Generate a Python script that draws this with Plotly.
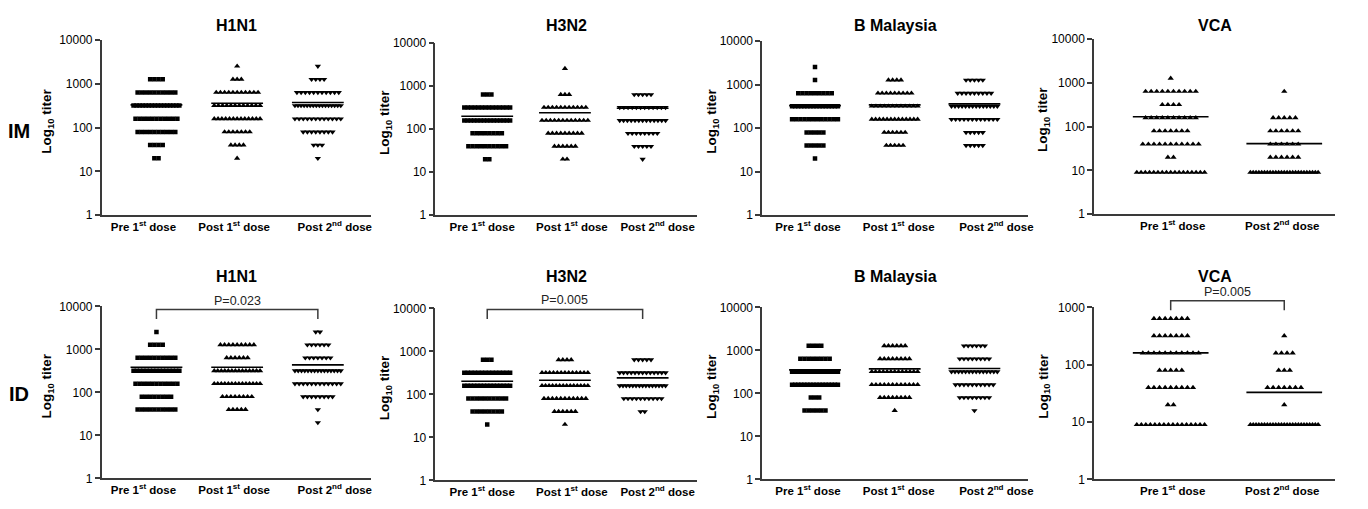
import numpy as np
import plotly.graph_objects as go

# page body has an 8px margin, so the figure is drawn slightly smaller and offset
PAGE_W, PAGE_H = 1368, 509
OFF = 8
W, H = PAGE_W - 2 * OFF, PAGE_H - 2 * OFF

# ---------------- data ----------------
TITERS = [9, 20, 40, 80, 160, 320, 640, 1280, 2560]
ANTIGENS = ["H1N1", "H3N2", "B Malaysia", "VCA"]
ROUTES = ["IM", "ID"]
GROUPS_FLU = ["Pre 1<sup>st</sup> dose", "Post 1<sup>st</sup> dose", "Post 2<sup>nd</sup> dose"]
GROUPS_VCA = ["Pre 1<sup>st</sup> dose", "Post 2<sup>nd</sup> dose"]

# number of subjects at each titer level (aligned with TITERS)
IM_H1N1_PRE = [0, 2, 4, 10, 11, 16, 10, 4, 0]
IM_H1N1_POST1 = [0, 1, 4, 7, 13, 12, 11, 3, 1]
IM_H1N1_POST2 = [0, 1, 3, 8, 12, 16, 11, 4, 1]
IM_H3N2_PRE = [0, 2, 10, 8, 15, 14, 3, 0, 0]
IM_H3N2_POST1 = [0, 2, 6, 9, 12, 11, 3, 0, 1]
IM_H3N2_POST2 = [0, 1, 5, 8, 13, 12, 5, 0, 0]
IM_BMAL_PRE = [0, 1, 5, 5, 12, 16, 9, 1, 1]
IM_BMAL_POST1 = [0, 0, 5, 6, 13, 12, 9, 4, 0]
IM_BMAL_POST2 = [0, 0, 5, 5, 12, 14, 9, 5, 0]
IM_VCA_PRE = [17, 2, 11, 7, 10, 4, 10, 1, 0]
IM_VCA_POST2 = [25, 6, 6, 6, 5, 0, 1, 0, 0]

ID_H1N1_PRE = [0, 0, 10, 8, 11, 15, 10, 4, 1]
ID_H1N1_POST1 = [0, 0, 5, 8, 14, 14, 6, 9, 0]
ID_H1N1_POST2 = [0, 1, 1, 8, 12, 15, 7, 6, 2]
ID_H3N2_PRE = [0, 1, 8, 10, 15, 14, 3, 0, 0]
ID_H3N2_POST1 = [0, 1, 6, 11, 14, 13, 4, 0, 0]
ID_H3N2_POST2 = [0, 0, 2, 10, 15, 13, 5, 0, 0]
ID_BMAL_PRE = [0, 0, 6, 3, 16, 14, 8, 4, 0]
ID_BMAL_POST1 = [0, 0, 1, 8, 12, 13, 8, 6, 0]
ID_BMAL_POST2 = [0, 0, 1, 8, 10, 14, 8, 6, 0]
ID_VCA_PRE = [16, 2, 9, 5, 11, 7, 7, 0, 0]
ID_VCA_POST2 = [25, 1, 7, 3, 4, 1, 0, 0, 0]

# geometric mean titers (horizontal lines)
IM_GMT = [[333, 363, 378], [199, 241, 306], [331, 344, 362], [169, 41]]
ID_GMT = [[386, 386, 438], [203, 214, 242], [353, 372, 380], [161, 33]]

# p-values: (panel index, text)
P_VALUES = [(4, "P=0.023"), (5, "P=0.005"), (7, "P=0.005")]

IM_COUNTS = [[IM_H1N1_PRE, IM_H1N1_POST1, IM_H1N1_POST2],
             [IM_H3N2_PRE, IM_H3N2_POST1, IM_H3N2_POST2],
             [IM_BMAL_PRE, IM_BMAL_POST1, IM_BMAL_POST2],
             [IM_VCA_PRE, IM_VCA_POST2]]
ID_COUNTS = [[ID_H1N1_PRE, ID_H1N1_POST1, ID_H1N1_POST2],
             [ID_H3N2_PRE, ID_H3N2_POST1, ID_H3N2_POST2],
             [ID_BMAL_PRE, ID_BMAL_POST1, ID_BMAL_POST2],
             [ID_VCA_PRE, ID_VCA_POST2]]

# ---------------- layout geometry (page pixels) ----------------
COLS = [
    dict(left=102, right=372, c0=157, gap=81, labels=[144, 235, 336]),
    dict(left=437, right=700, c0=489, gap=78, labels=[484, 574, 660]),
    dict(left=765, right=1032, c0=818, gap=80, labels=[811, 902, 1000]),
    dict(left=1098, right=1340, c0=1175, gap=114, labels=[1177, 1287]),
]
ROWS_Y = [[(34, 214), (37, 214), (35, 214), (33, 213)],
          [(308, 485), (310, 487), (309, 486), (309, 486)]]
TITLE_Y = [19, 277]
ROWLABEL_Y = [127, 398]

FONT = "Liberation Sans, Arial, sans-serif"
AX_COLOR = "#3a3a3a"


def px_x(p):
    return (p - OFF) / W


def px_y(p):
    return 1 - (p - OFF) / H


fig = go.Figure()
layout = dict(
    width=W, height=H, margin=dict(l=0, r=0, t=0, b=0),
    paper_bgcolor="white", plot_bgcolor="white", showlegend=False,
    font=dict(family=FONT, color="black"),
)
annotations = []
shapes = []

for r, (route, counts_row, gmt_row) in enumerate(zip(ROUTES, [IM_COUNTS, ID_COUNTS], [IM_GMT, ID_GMT])):
    for c, antigen in enumerate(ANTIGENS):
        k = r * 4 + c + 1
        col = COLS[c]
        ytop, ybot = ROWS_Y[r][c]
        is_vca = antigen == "VCA"
        groups = GROUPS_VCA if is_vca else GROUPS_FLU
        symbols = ["triangle-up", "triangle-up"] if is_vca else ["square", "triangle-up", "triangle-down"]
        step = 5.6 if is_vca else 4.2
        maxspan = 68 if is_vca else 46
        halfline = 38 if is_vca else 26
        gap = col["gap"]
        xr = [(col["left"] - col["c0"]) / gap, (col["right"] - col["c0"]) / gap]
        yrange = [0, 3] if (is_vca and r == 1) else [0, 4]
        xa = "x" if k == 1 else f"x{k}"
        ya = "y" if k == 1 else f"y{k}"

        for g, counts in enumerate(counts_row[c]):
            xs, ys = [], []
            for t, n in zip(TITERS, counts):
                if n <= 0:
                    continue
                span = min((n - 1) * step, maxspan)
                offs = np.linspace(-span / 2, span / 2, n) if n > 1 else np.array([0.0])
                xs.extend(list(g + offs / gap))
                ys.extend([t] * n)
            fig.add_trace(go.Scatter(
                x=xs, y=ys, mode="markers", xaxis=xa, yaxis=ya,
                marker=dict(symbol=symbols[g], size=4.5 if symbols[g] == "square" else 5.5,
                            color="black", line=dict(width=0)),
                hoverinfo="skip"))
            gm = gmt_row[c][g]
            hw = halfline / gap
            fig.add_trace(go.Scatter(
                x=[g - hw, g + hw], y=[gm, gm], mode="lines", xaxis=xa, yaxis=ya,
                line=dict(color="black", width=1.6), hoverinfo="skip"))

        tickvals = [(p - col["c0"]) / gap for p in col["labels"]]
        layout["xaxis" if k == 1 else f"xaxis{k}"] = dict(
            domain=[px_x(col["left"]), px_x(col["right"])], anchor=ya, range=xr,
            showline=True, linecolor=AX_COLOR, linewidth=1.5, showgrid=False, zeroline=False,
            tickmode="array", tickvals=tickvals, ticktext=[f"<b>{s}</b>" for s in groups],
            ticks="", tickfont=dict(size=11.5, family=FONT, color="black"), fixedrange=True)
        yt = [1, 10, 100, 1000, 10000][: yrange[1] + 1]
        layout["yaxis" if k == 1 else f"yaxis{k}"] = dict(
            domain=[px_y(ybot), px_y(ytop)], anchor=xa, type="log", range=yrange,
            showline=True, linecolor=AX_COLOR, linewidth=1.5, showgrid=False, zeroline=False,
            tickmode="array", tickvals=yt, ticktext=[str(v) for v in yt],
            ticks="outside", ticklen=5, tickwidth=1.5, tickcolor=AX_COLOR,
            tickfont=dict(size=12, family=FONT, color="black"), fixedrange=True)

        # panel title
        annotations.append(dict(
            text=f"<b>{antigen}</b>", x=px_x((col["left"] + col["right"]) / 2), y=px_y(TITLE_Y[r]),
            xref="paper", yref="paper", showarrow=False, xanchor="center", yanchor="middle",
            font=dict(size=16, family=FONT, color="black")))
        # y-axis title
        ytitle_x = [48, 387, 715, 1048][c]
        annotations.append(dict(
            text="<b>Log<sub>10</sub> titer</b>", x=px_x(ytitle_x), y=px_y((ytop + ybot) / 2 - 7),
            xref="paper", yref="paper", showarrow=False, textangle=-90,
            xanchor="center", yanchor="middle", font=dict(size=13.5, family=FONT, color="black")))

# row labels
for r, route in enumerate(ROUTES):
    annotations.append(dict(
        text=f"<b>{route}</b>", x=px_x(19), y=px_y(ROWLABEL_Y[r]), xref="paper", yref="paper",
        showarrow=False, xanchor="center", yanchor="middle", font=dict(size=20, family=FONT, color="black")))

# significance brackets
BRACKET_PX = {4: (311, 321, 302), 5: (311, 321, 301), 7: (302, 312, 293)}
for idx, ptxt in P_VALUES:
    k = idx + 1
    xa = f"x{k}"
    top, bot, ty = BRACKET_PX[idx]
    last = 1 if idx == 7 else 2
    shapes.append(dict(
        type="path", xref=xa, yref="paper",
        path=f"M 0 {px_y(bot)} L 0 {px_y(top)} L {last} {px_y(top)} L {last} {px_y(bot)}",
        line=dict(color=AX_COLOR, width=1.5)))
    annotations.append(dict(
        text=ptxt, x=last / 2, y=px_y(ty), xref=xa, yref="paper", showarrow=False,
        xanchor="center", yanchor="middle", font=dict(size=12.5, family=FONT, color="#222")))

layout["annotations"] = annotations
layout["shapes"] = shapes
fig.update_layout(**layout)
fig.write_html("out.html")
